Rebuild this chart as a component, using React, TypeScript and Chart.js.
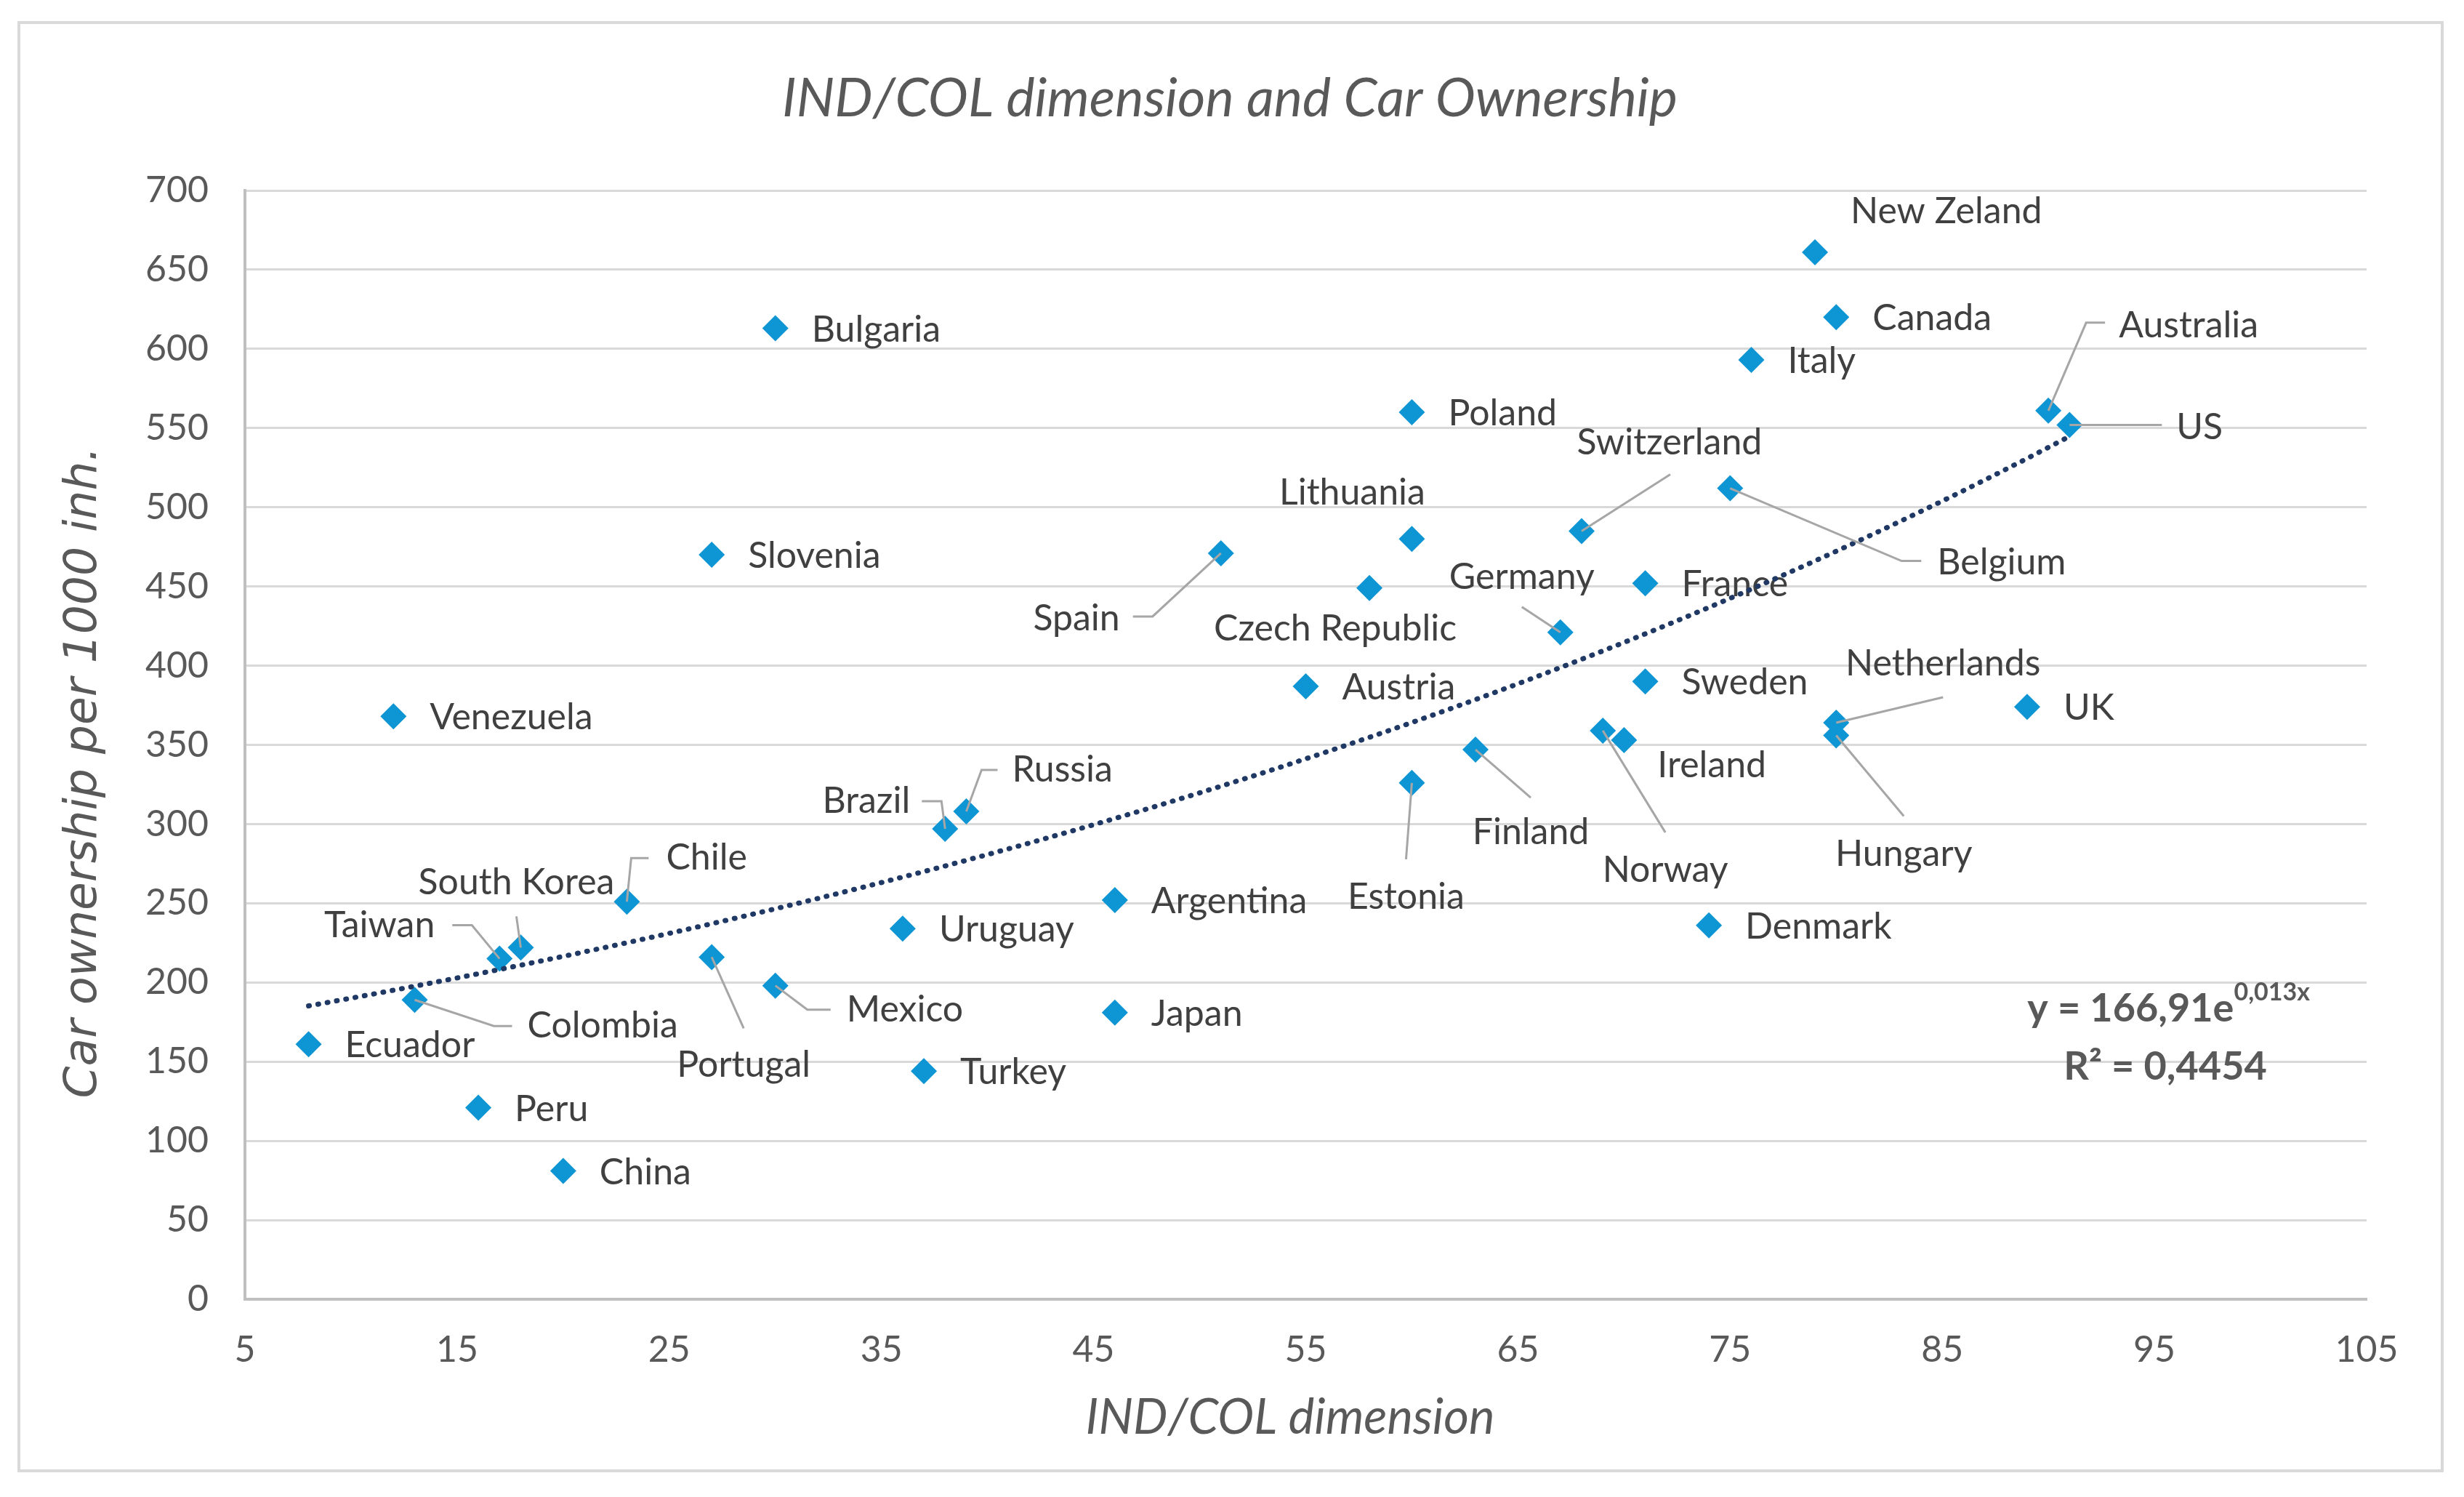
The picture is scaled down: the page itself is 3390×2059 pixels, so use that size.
import React, { useEffect, useRef } from 'react';
import { Chart, registerables } from 'chart.js';

Chart.register(...registerables);

// ---------- DATA ----------
const COUNTRIES = [
  'Bulgaria', 'Slovenia', 'Venezuela', 'Spain', 'Poland', 'Lithuania', 'Czech Republic', 'Austria',
  'Switzerland', 'Germany', 'France', 'Sweden', 'Belgium', 'New Zeland', 'Canada', 'Italy',
  'Australia', 'US', 'UK', 'Netherlands', 'Hungary', 'Norway', 'Ireland', 'Finland', 'Estonia',
  'Denmark', 'Argentina', 'Japan', 'Uruguay', 'Turkey', 'Brazil', 'Russia', 'Mexico', 'Portugal',
  'Chile', 'South Korea', 'Taiwan', 'Colombia', 'Ecuador', 'Peru', 'China',
];
const IND_COL = [
  30, 27, 12, 51, 60, 60, 58, 55,
  68, 67, 71, 71, 75, 79, 80, 76,
  90, 91, 89, 80, 80, 69, 70, 63, 60,
  74, 46, 46, 36, 37, 38, 39, 30, 27,
  23, 18, 17, 13, 8, 16, 20,
];
const CAR_OWNERSHIP = [
  613, 470, 368, 471, 560, 480, 449, 387,
  485, 421, 452, 390, 512, 661, 620, 593,
  561, 552, 374, 364, 356, 359, 353, 347, 326,
  236, 252, 181, 234, 144, 297, 308, 198, 216,
  251, 222, 215, 189, 161, 121, 81,
];
const X_TICKS = [5, 15, 25, 35, 45, 55, 65, 75, 85, 95, 105];
const Y_TICKS = [0, 50, 100, 150, 200, 250, 300, 350, 400, 450, 500, 550, 600, 650, 700];

// Exponential trendline as printed on the chart: y = 166,91 e^(0,013x), R² = 0,4454
const TREND_A = 166.91;
const TREND_B = 0.013;
const TREND_R2 = 0.4454;
const TREND_X_FROM = 8;
const TREND_X_TO = 91;

const TITLE = 'IND/COL dimension and Car Ownership';
const X_TITLE = 'IND/COL dimension';
const Y_TITLE = 'Car ownership per 1000 inh.';

// ---------- LABEL LAYOUT (pixel offsets from each marker) ----------
type Layout = { dx: number; dy: number; align?: 'left' | 'center' | 'right'; leader?: number[][] };
const DEFAULT_LAYOUT: Layout = { dx: 50, dy: 2, align: 'left' };
const LABEL_LAYOUT: Record<string, Layout> = {
  Spain: { dx: -139, dy: 90, align: 'right', leader: [[-121, 87], [-94, 87], [0, 0]] },
  Lithuania: { dx: -82, dy: -63, align: 'center' },
  'Czech Republic': { dx: -47, dy: 56, align: 'center' },
  Switzerland: { dx: 121, dy: -122, align: 'center', leader: [[122, -78], [0, 0]] },
  Germany: { dx: -53, dy: -76, align: 'center', leader: [[-53, -35], [0, 0]] },
  Belgium: { dx: 285, dy: 102, align: 'left', leader: [[263, 100], [236, 100], [0, 0]] },
  'New Zeland': { dx: 49, dy: -56, align: 'left' },
  Australia: { dx: 97, dy: -117, align: 'left', leader: [[78, -121], [52, -121], [0, 0]] },
  US: { dx: 147, dy: 3, align: 'left', leader: [[127, 0], [0, 0]] },
  Netherlands: { dx: 147, dy: -81, align: 'center', leader: [[147, -35], [0, 0]] },
  Hungary: { dx: 93, dy: 163, align: 'center', leader: [[93, 111], [0, 0]] },
  Norway: { dx: 86, dy: 192, align: 'center', leader: [[86, 140], [0, 0]] },
  Ireland: { dx: 46, dy: 35, align: 'left' },
  Finland: { dx: 76, dy: 114, align: 'center', leader: [[76, 66], [0, 0]] },
  Estonia: { dx: -8, dy: 157, align: 'center', leader: [[-8, 105], [0, 0]] },
  Brazil: { dx: -48, dy: -38, align: 'right', leader: [[-32, -38], [-5, -38], [0, 0]] },
  Russia: { dx: 63, dy: -57, align: 'left', leader: [[43, -57], [21, -57], [0, 0]] },
  Mexico: { dx: 98, dy: 33, align: 'left', leader: [[76, 33], [44, 33], [0, 0]] },
  Portugal: { dx: 44, dy: 148, align: 'center', leader: [[44, 98], [0, 0]] },
  Chile: { dx: 54, dy: -60, align: 'left', leader: [[30, -60], [6, -60], [0, 0]] },
  'South Korea': { dx: -6, dy: -89, align: 'center', leader: [[-6, -43], [0, 0]] },
  Taiwan: { dx: -89, dy: -46, align: 'right', leader: [[-65, -46], [-38, -46], [0, 0]] },
  Colombia: { dx: 155, dy: 36, align: 'left', leader: [[134, 36], [109, 36], [0, 0]] },
};

// ---------- STYLE ----------
const FONT = 'Lato';
const MARKER_COLOR = '#0E95D3';
const TEXT_DARK = '#404040';
const TEXT_MID = '#595959';
const GRID_COLOR = '#D9D9D9';
const AXIS_COLOR = '#BFBFBF';
const LEADER_COLOR = '#A6A6A6';
const TREND_COLOR = '#1F3864';

const fmt = (v: number) => String(v).replace('.', ',');

const annotationPlugin = {
  id: 'annotations',
  beforeDraw(chart: any) {
    const ctx = chart.ctx;
    ctx.save();
    ctx.fillStyle = '#ffffff';
    ctx.fillRect(0, 0, chart.width, chart.height);
    ctx.strokeStyle = GRID_COLOR;
    ctx.lineWidth = 4;
    ctx.strokeRect(26, 31, 3334, 1992);
    ctx.restore();
  },
  beforeDatasetsDraw(chart: any) {
    const ctx = chart.ctx;
    const meta = chart.getDatasetMeta(0);
    ctx.save();
    ctx.font = `50px ${FONT}`;
    ctx.fillStyle = TEXT_DARK;
    ctx.textBaseline = 'middle';
    COUNTRIES.forEach((name, i) => {
      const el = meta.data[i];
      if (!el) return;
      const lay = LABEL_LAYOUT[name] || DEFAULT_LAYOUT;
      ctx.textAlign = lay.align || 'left';
      ctx.fillText(name, el.x + lay.dx, el.y + lay.dy);
    });
    ctx.restore();
  },
  afterDatasetsDraw(chart: any) {
    const ctx = chart.ctx;
    const meta = chart.getDatasetMeta(0);
    ctx.save();
    ctx.strokeStyle = LEADER_COLOR;
    ctx.lineWidth = 3;
    COUNTRIES.forEach((name, i) => {
      const el = meta.data[i];
      const lay = LABEL_LAYOUT[name];
      if (!el || !lay || !lay.leader) return;
      ctx.beginPath();
      lay.leader.forEach(([dx, dy], k) => {
        if (k === 0) ctx.moveTo(el.x + dx, el.y + dy);
        else ctx.lineTo(el.x + dx, el.y + dy);
      });
      ctx.stroke();
    });
    ctx.restore();
  },
  afterDraw(chart: any) {
    const ctx = chart.ctx;
    const area = chart.chartArea;
    ctx.save();
    // Title
    ctx.fillStyle = TEXT_MID;
    ctx.textAlign = 'center';
    ctx.textBaseline = 'middle';
    ctx.font = `italic 74px ${FONT}`;
    ctx.fillText(TITLE, 1692, 136);
    // X axis title
    ctx.font = `italic 67px ${FONT}`;
    ctx.fillText(X_TITLE, 1775, 1950);
    // Y axis title
    ctx.save();
    ctx.translate(116, (area.top + area.bottom) / 2 + 38);
    ctx.rotate(-Math.PI / 2);
    ctx.font = `oblique 63px "DejaVu Sans"`;
    ctx.fillText(Y_TITLE, 0, 0);
    ctx.restore();
    // Equation
    ctx.textAlign = 'left';
    ctx.textBaseline = 'alphabetic';
    ctx.font = `bold 54px ${FONT}`;
    const main = `y = ${fmt(TREND_A)}e`;
    const sup = `${fmt(TREND_B)}x`;
    const mw = ctx.measureText(main).width;
    ctx.font = `bold 34px ${FONT}`;
    const sw = ctx.measureText(sup).width;
    const eqRight = 3178;
    const eqLeft = eqRight - mw - sw;
    ctx.font = `bold 54px ${FONT}`;
    ctx.fillText(main, eqLeft, 1405);
    ctx.font = `bold 34px ${FONT}`;
    ctx.fillText(sup, eqLeft + mw, 1376);
    ctx.font = `bold 54px ${FONT}`;
    ctx.textAlign = 'center';
    ctx.fillText(`R² = ${fmt(TREND_R2)}`, 2979, 1485);
    ctx.restore();
  },
};

export default function App() {
  const canvasRef = useRef<HTMLCanvasElement | null>(null);

  useEffect(() => {
    if (!canvasRef.current) return;
    const points = IND_COL.map((x, i) => ({ x, y: CAR_OWNERSHIP[i] }));
    const trend: { x: number; y: number }[] = [];
    for (let x = TREND_X_FROM; x <= TREND_X_TO; x += 1) {
      trend.push({ x, y: TREND_A * Math.exp(TREND_B * x) });
    }
    const chart = new Chart(canvasRef.current, {
      type: 'scatter',
      data: {
        datasets: [
          {
            label: 'Countries',
            data: points,
            pointStyle: 'rectRot',
            pointRadius: 18,
            pointHoverRadius: 18,
            pointBackgroundColor: MARKER_COLOR,
            pointBorderColor: MARKER_COLOR,
            pointBorderWidth: 0,
            order: 2,
          },
          {
            label: 'Trend',
            data: trend,
            showLine: true,
            pointRadius: 0,
            borderColor: TREND_COLOR,
            borderWidth: 7,
            borderDash: [1, 12],
            borderCapStyle: 'round',
            tension: 0,
            order: 1,
          } as any,
        ],
      },
      options: {
        animation: false,
        responsive: true,
        maintainAspectRatio: false,
        devicePixelRatio: 1,
        events: [],
        layout: { padding: { left: 187, right: 134, top: 262, bottom: 152 } },
        plugins: { legend: { display: false }, tooltip: { enabled: false }, title: { display: false } },
        scales: {
          x: {
            type: 'linear',
            min: 5,
            max: 105,
            afterBuildTicks: (scale: any) => {
              scale.ticks = X_TICKS.map((value) => ({ value }));
            },
            afterFit: (scale: any) => {
              scale.height = 120;
            },
            grid: { display: false, drawTicks: false },
            border: { display: true, color: AXIS_COLOR, width: 4 },
            ticks: { color: TEXT_MID, font: { family: FONT, size: 50 }, padding: 40, autoSkip: false, maxRotation: 0 },
          },
          y: {
            type: 'linear',
            min: 0,
            max: 700,
            afterBuildTicks: (scale: any) => {
              scale.ticks = Y_TICKS.map((value) => ({ value }));
            },
            afterFit: (scale: any) => {
              scale.width = 150;
            },
            grid: { color: GRID_COLOR, lineWidth: 3, drawTicks: false },
            border: { display: true, color: AXIS_COLOR, width: 4 },
            ticks: { color: TEXT_MID, font: { family: FONT, size: 50 }, padding: 50, autoSkip: false },
          },
        },
      },
      plugins: [annotationPlugin],
    });
    return () => chart.destroy();
  }, []);

  return (
    <div style={{ position: 'absolute', left: 0, top: 0, width: 3390, height: 2059, background: '#fff' }}>
      <canvas ref={canvasRef} />
    </div>
  );
}
